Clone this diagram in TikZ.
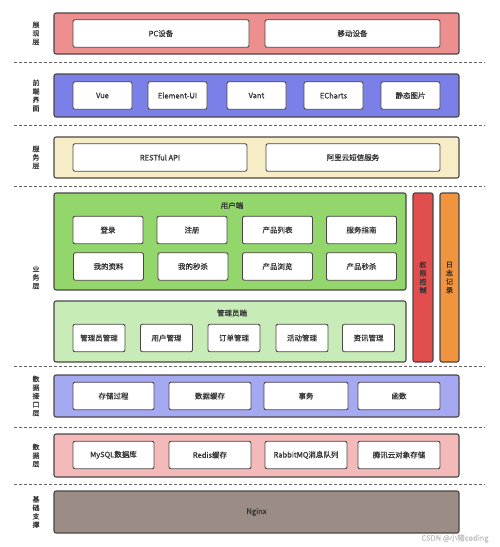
\documentclass[tikz,border=0pt]{standalone}
\usepackage{fontspec}
\setmainfont{Noto Sans CJK SC}[FakeBold=0.7]
\usepackage{tikz}
\definecolor{edge}{HTML}{4A4546}
\definecolor{txt}{HTML}{333333}
\definecolor{showred}{HTML}{EE8F8F}
\definecolor{frontblue}{HTML}{7B80E8}
\definecolor{srvyellow}{HTML}{F6EDC6}
\definecolor{usergreen}{HTML}{92D66C}
\definecolor{admingreen}{HTML}{C8ECB8}
\definecolor{permred}{HTML}{E24D4D}
\definecolor{logorange}{HTML}{F0943E}
\definecolor{apiblue}{HTML}{A5A9F2}
\definecolor{datapink}{HTML}{F4B9B9}
\definecolor{basebrown}{HTML}{9C8C86}

\begin{document}
\begin{tikzpicture}[x=1pt,y=-1pt,
  layer/.style={draw=edge,line width=1.1pt,rounded corners=2pt,inner sep=0pt},
  item/.style={draw=edge,fill=white,line width=.9pt,rounded corners=2pt,minimum height=27.5pt,inner sep=0pt,font=\fontsize{7.5}{9}\selectfont,text=txt},
  side/.style={align=center,font=\fontsize{7}{8.5}\selectfont,text=txt}]
  \useasboundingbox (0,0) rectangle (499,547);
  \foreach \y in {62,125,186,366,427,484}
    \draw[edge!85,line width=1pt,dash pattern=on 3pt off 2pt] (14,\y)--(485,\y);

  \node[side] (lshow) at (36,33.5) {展\\现\\层};
  \node[layer,fill=showred,minimum width=405,minimum height=41] (show) at (256.5,33.5) {};
  \node[item,minimum width=176] (pc) at (161,33.5) {PC设备};
  \node[item,minimum width=175] (mobile) at (352.5,33.5) {移动设备};

  \node[side] (lfront) at (36,95.5) {前\\端\\界\\面};
  \node[layer,fill=frontblue,minimum width=405,minimum height=43] (front) at (256.5,95.5) {};
  \node[item,minimum width=59] (vue) at (102.5,95.5) {Vue};
  \node[item,minimum width=59] (element) at (177.5,95.5) {Element-UI};
  \node[item,minimum width=59] (vant) at (256.5,95.5) {Vant};
  \node[item,minimum width=59] (echarts) at (333.5,95.5) {ECharts};
  \node[item,minimum width=59] (pics) at (410.5,95.5) {静态图片};

  \node[side] (lsrv) at (36,157.5) {服\\务\\层};
  \node[layer,fill=srvyellow,minimum width=405,minimum height=41] (srv) at (256.5,157.5) {};
  \node[item,minimum width=174] (rest) at (160,157.5) {RESTful API};
  \node[item,minimum width=174] (sms) at (353,157.5) {阿里云短信服务};

  \node[side] (lbiz) at (36,277.5) {业\\务\\层};
  \node[layer,fill=usergreen,minimum width=352,minimum height=97] (user) at (230,241.5) {};
  \node[font=\fontsize{7.5}{9}\selectfont,text=txt] (usertitle) at (232,205.5) {用户端};
  \node[item,minimum width=70] (login) at (108,230) {登录};
  \node[item,minimum width=70] (reg) at (192,230) {注册};
  \node[item,minimum width=70] (plist) at (277.5,230) {产品列表};
  \node[item,minimum width=70] (guide) at (361.5,230) {服务指南};
  \node[item,minimum width=70] (profile) at (108.5,266.5) {我的资料};
  \node[item,minimum width=70] (myseck) at (193,266.5) {我的秒杀};
  \node[item,minimum width=70] (browse) at (277.5,266.5) {产品浏览};
  \node[item,minimum width=70] (pseck) at (361.5,266.5) {产品秒杀};

  \node[layer,fill=admingreen,minimum width=352,minimum height=61] (admin) at (230,331.5) {};
  \node[font=\fontsize{7.5}{9}\selectfont,text=txt] (admintitle) at (232,313) {管理员端};
  \node[item,minimum width=52] (mgr) at (99,338) {管理员管理};
  \node[item,minimum width=52] (usr) at (166.5,338) {用户管理};
  \node[item,minimum width=52] (order) at (234,338) {订单管理};
  \node[item,minimum width=52] (act) at (302,338) {活动管理};
  \node[item,minimum width=52] (news) at (368.5,338) {资讯管理};

  \node[layer,fill=permred,minimum width=20,minimum height=169] (perm) at (423,277.5) {};
  \node[side] (permtxt) at (423,277.5) {权\\限\\控\\制};
  \node[layer,fill=logorange,minimum width=19,minimum height=169] (log) at (449.5,277.5) {};
  \node[side] (logtxt) at (449.5,277.5) {日\\志\\记\\录};

  \node[side] (lapi) at (36,396) {数\\据\\接\\口\\层};
  \node[layer,fill=apiblue,minimum width=405,minimum height=42] (api) at (256.5,396) {};
  \node[item,minimum width=81] (proc) at (113.5,396) {存储过程};
  \node[item,minimum width=82] (cache) at (210,396) {数据缓存};
  \node[item,minimum width=84] (trans) at (306,396) {事务};
  \node[item,minimum width=82] (func) at (399,396) {函数};

  \node[side] (ldata) at (36,455.5) {数\\据\\层};
  \node[layer,fill=datapink,minimum width=405,minimum height=43] (data) at (256.5,455.5) {};
  \node[item,minimum width=81] (mysql) at (113.5,455) {MySQL数据库};
  \node[item,minimum width=82] (redis) at (210,455) {Redis缓存};
  \node[item,minimum width=82] (mq) at (306,455) {RabbitMQ消息队列};
  \node[item,minimum width=82] (cos) at (399,455) {腾讯云对象存储};

  \node[side] (lbase) at (36,512) {基\\础\\支\\撑};
  \node[layer,fill=basebrown,minimum width=405,minimum height=42] (base) at (256.5,512) {};
  \node[font=\fontsize{7.5}{9}\selectfont,text=txt] (nginx) at (256.5,512) {Nginx};

  \node[font=\fontsize{7.5}{9}\selectfont,text=black!25] (mark) at (455,538.5) {CSDN @小猪coding};
\end{tikzpicture}
\end{document}
